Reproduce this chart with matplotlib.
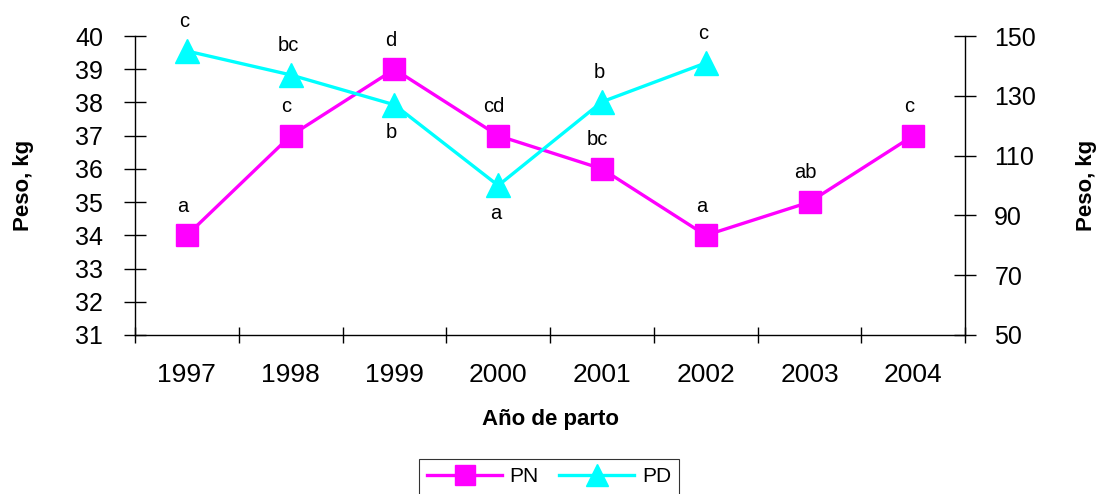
import numpy as np
import matplotlib
matplotlib.use("Agg")
import matplotlib.pyplot as plt

plt.rcParams['font.family'] = ['Liberation Sans', 'DejaVu Sans']

# data
years = ['1997', '1998', '1999', '2000', '2001', '2002', '2003', '2004']
pn = [34, 37, 39, 37, 36, 34, 35, 37]            # left axis
pd_vals = [145, 137, 127, 100, 128, 141]         # right axis, 1997-2002
pn_letters = ['a', 'c', 'd', 'cd', 'bc', 'a', 'ab', 'c']
pd_letters = ['c', 'bc', 'b', 'a', 'b', 'c']
pd_above = [True, True, False, False, True, True]

x = np.arange(len(years))
x_pd = x[:len(pd_vals)]

fig = plt.figure(figsize=(10.98, 4.94), dpi=100)
ax = fig.add_axes([0.123, 0.322, 0.756, 0.605])
ax2 = ax.twinx()

l1, = ax.plot(x, pn, color='#FF00FF', lw=2.4, marker='s', ms=15.5, label='PN', zorder=3)
l2, = ax2.plot(x_pd, pd_vals, color='#00FFFF', lw=2.4, marker='^', ms=17, label='PD', zorder=3)

ax.set_xlim(-0.5, len(years) - 0.5)
ax.set_ylim(31, 40)
ax.set_yticks(range(31, 41))
ax2.set_ylim(50, 150)
ax2.set_yticks(range(50, 151, 20))

# category boundaries carry the tick marks, labels sit in the middle
ax.set_xticks(np.arange(-0.5, len(years), 1.0))
ax.set_xticklabels([])
ax.set_xticks(x, minor=True)
ax.set_xticklabels(years, minor=True, fontsize=19)
ax.tick_params(axis='x', which='major', direction='inout', length=11, width=1)
ax.tick_params(axis='x', which='minor', length=0, pad=20)
ax.tick_params(axis='y', direction='inout', length=16, width=1, labelsize=18, pad=15)
ax2.tick_params(axis='y', direction='inout', length=16, width=1, labelsize=18, pad=13)

for a in (ax, ax2):
    a.spines['top'].set_visible(False)
    for s in a.spines.values():
        s.set_linewidth(1)
ax.spines['right'].set_visible(False)
ax2.spines['left'].set_visible(False)
ax2.spines['bottom'].set_visible(False)

ax.set_ylabel('Peso, kg', fontsize=16, fontweight='bold')
ax.yaxis.set_label_coords(-0.122, 0.5)
ax2.set_ylabel('Peso, kg', fontsize=16, fontweight='bold')
ax2.yaxis.set_label_coords(1.133, 0.5)
ax.set_xlabel('Año de parto', fontsize=16, fontweight='bold', labelpad=16)

for xi, yi, t in zip(x, pn, pn_letters):
    ax.annotate(t, (xi, yi), xytext=(-3, 21), textcoords='offset points',
                ha='center', va='center', fontsize=14.5)
for xi, yi, t, up in zip(x_pd, pd_vals, pd_letters, pd_above):
    ax2.annotate(t, (xi, yi), xytext=(-2, 21 if up else -20), textcoords='offset points',
                 ha='center', va='center', fontsize=14.5)

leg = fig.legend([l1, l2], ['PN', 'PD'], loc='upper center', bbox_to_anchor=(0.5, 0.071),
                 borderaxespad=0, ncol=2, fontsize=15, frameon=True, fancybox=False,
                 handlelength=3.6, columnspacing=1.0, handletextpad=0.35, borderpad=0.4,
                 markerscale=0.9)
leg.get_frame().set_edgecolor('black')
leg.get_frame().set_linewidth(0.8)

fig.savefig('out.png', dpi=100)
